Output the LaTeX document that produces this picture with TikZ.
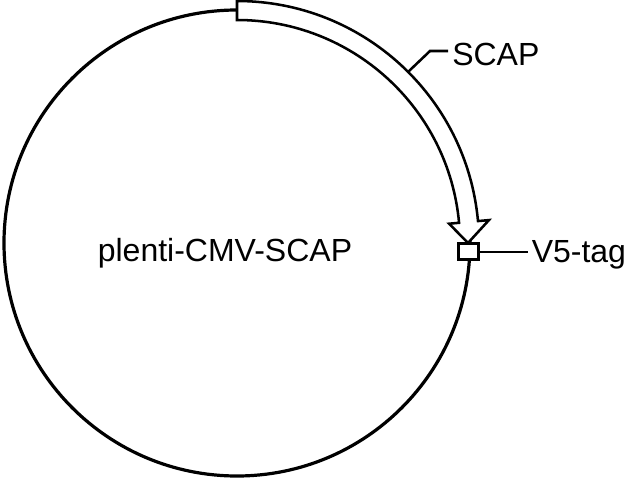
\documentclass[tikz,border=0pt]{standalone}
\usepackage{fontspec}
\setmainfont{Liberation Sans}
\begin{document}
\begin{tikzpicture}[x=0.75pt, y=0.75pt, line width=1.9pt,
  lbl/.style={font=\fontsize{24}{28}\selectfont, inner xsep=2.25pt, inner ysep=0pt, anchor=base west}]

\useasboundingbox (0,0) rectangle (640,480);

\coordinate (c) at (237,237);
\draw [line width=2.4pt] (c) circle [radius=233];

% SCAP feature arrow
\draw [fill=white, shift={(237,237)}] (90:223) arc [start angle=90, end angle=5.2, radius=223] -- (5.2:213) -- (0:231) -- (5.2:253) -- (5.2:242) arc [start angle=5.2, end angle=90, radius=242] -- cycle;

\node [draw, fill=white, line width=2.25pt, minimum width=15pt, minimum height=12pt, inner sep=0pt] (v5) at ([shift={(-2.2:231.7)}]c) {};

\node [font=\fontsize{24}{28}\selectfont, anchor=base, inner sep=0pt] (plasmid) at (225,219) {plenti-CMV-SCAP};

\coordinate (scapfoot) at ([shift={(45:242)}]c);
\coordinate (scapknee) at (430,429);
\node [lbl] (scap) at (448,415) {SCAP};
\draw (scapfoot) -- (scapknee) -- (scapknee -| scap.west);

\node [lbl] (v5tag) at (527.5,218) {V5-tag};
\draw (v5.east) -- (v5.east -| v5tag.west);
\end{tikzpicture}
\end{document}
